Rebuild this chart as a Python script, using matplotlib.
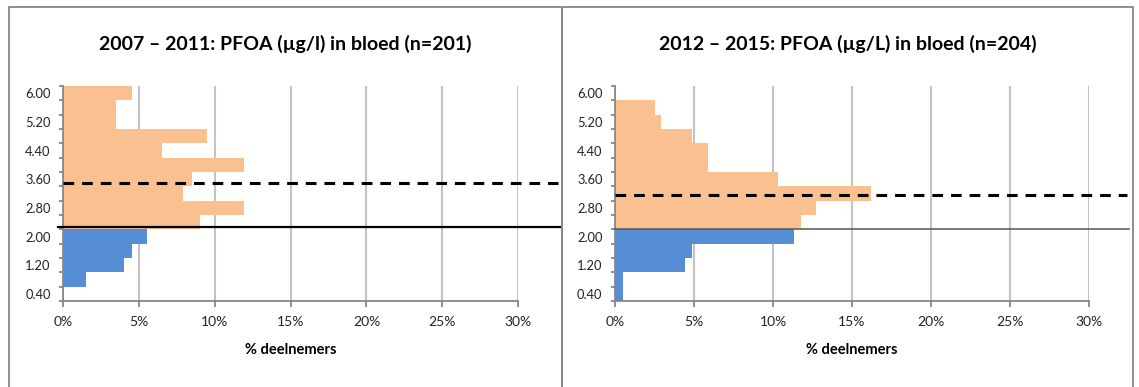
import matplotlib
matplotlib.use("Agg")
import matplotlib.pyplot as plt
import matplotlib.transforms as mtransforms
from matplotlib.patches import Rectangle

plt.rcParams['font.family'] = ['Lato', 'DejaVu Sans']

# --- DATA ---

# klassen PFOA (µg/l), midden van elke klasse van 0.40 breed
klassen = [0.40, 0.80, 1.20, 1.60, 2.00, 2.40, 2.80, 3.20,
           3.60, 4.00, 4.40, 4.80, 5.20, 5.60, 6.00]
klas_labels = ["0.40", "1.20", "2.00", "2.80", "3.60", "4.40", "5.20", "6.00"]
x_ticks = [0, 5, 10, 15, 20, 25, 30]

# % deelnemers per klasse
pct_2007 = [0, 1.5, 4.0, 4.5, 5.5, 9.0, 11.9, 7.9, 8.5, 11.9, 6.5, 9.5, 3.5, 3.5, 4.5]
pct_2012 = [0.5, 0.5, 4.4, 4.9, 11.3, 11.8, 12.7, 16.2, 10.3, 5.9, 5.9, 4.9, 2.9, 2.5, 0]

titel_2007 = "2007 – 2011: PFOA (µg/l) in bloed (n=201)"
titel_2012 = "2012 – 2015: PFOA (µg/L) in bloed (n=204)"

# grens blauw/oranje en referentielijnen
grens_klasse = 2.0
mediaan_2007 = 3.50
lijn_2007 = 2.27
mediaan_2012 = 3.16
lijn_2012 = 2.21

BLAUW = '#558ED5'
ORANJE = '#FAC090'
GRIJS = '#878787'

W, H = 1139, 387


def teken(ax, pct, mediaan, lijn, lijn_kleur, lijn_dikte, lijn_start, lijn_eind):
    kleuren = [BLAUW if k <= grens_klasse else ORANJE for k in klassen]
    ax.barh(klassen, pct, height=0.4, color=kleuren, linewidth=0, zorder=2)

    ax.set_xlim(0, 30)
    ax.set_ylim(klassen[0] - 0.2, klassen[-1] + 0.2)

    # raster alleen verticaal
    ax.set_xticks(x_ticks)
    ax.set_xticklabels([f"{v}%" for v in x_ticks])
    ax.grid(axis='x', color='#c3c3c3', linewidth=1.5, zorder=0)
    ax.grid(axis='y', visible=False)
    ax.set_axisbelow(True)

    ax.set_yticks([float(s) for s in klas_labels])
    ax.set_yticklabels(klas_labels)
    ax.set_yticks([k - 0.2 for k in klassen] + [klassen[-1] + 0.2], minor=True)

    for kant in ['top', 'right']:
        ax.spines[kant].set_visible(False)
    for kant in ['left', 'bottom']:
        ax.spines[kant].set_color(GRIJS)
        ax.spines[kant].set_linewidth(1.3)
        ax.spines[kant].set_zorder(3)

    ax.tick_params(axis='x', length=4, width=1.3, color=GRIJS, pad=7,
                   labelsize=10, labelcolor='#222222')
    ax.tick_params(axis='y', which='major', length=0, pad=9,
                   labelsize=9.3, labelcolor='#222222')
    ax.tick_params(axis='y', which='minor', length=3, width=1.3, color=GRIJS)

    ax.set_xlabel("% deelnemers", fontsize=10.5, fontweight='bold')
    ax.xaxis.set_label_coords(0.5, -0.228)
    ax.xaxis.label.set_va('center')

    # lijnen lopen door tot buiten het grafiekgebied
    trans = mtransforms.blended_transform_factory(ax.transAxes, ax.transData)
    ax.plot([0, lijn_eind], [mediaan, mediaan], transform=trans, color='black',
            linewidth=2.2, linestyle=(0, (3.5, 2.6)), clip_on=False, zorder=4)
    ax.plot([lijn_start, lijn_eind + 0.004], [lijn, lijn], transform=trans, color=lijn_kleur,
            linewidth=lijn_dikte, clip_on=False, zorder=4)


fig = plt.figure(figsize=(W / 100, H / 100), dpi=100)

ax1 = fig.add_axes([63.3 / W, 1 - 301 / H, (518 - 63.3) / W, 215 / H])
ax2 = fig.add_axes([615 / W, 1 - 301 / H, (1089 - 615) / W, 215 / H])

teken(ax1, pct_2007, mediaan_2007, lijn_2007, 'black', 1.6, -0.012, 1.088)
teken(ax2, pct_2012, mediaan_2012, lijn_2012, '#555555', 1.1, 0.0, 1.08)

# kaders rond beide grafieken
fig.add_artist(Rectangle((9 / W, -0.1), (562 - 9) / W, 1.1 - 7 / H,
                         transform=fig.transFigure, fill=False,
                         edgecolor=GRIJS, linewidth=1.3))
fig.add_artist(Rectangle((562 / W, -0.1), (1133 - 562) / W, 1.1 - 7 / H,
                         transform=fig.transFigure, fill=False,
                         edgecolor=GRIJS, linewidth=1.3))

fig.text(285.5 / W, 1 - 44 / H, titel_2007, ha='center', va='center',
         fontsize=14, fontweight='bold')
fig.text(847.5 / W, 1 - 44 / H, titel_2012, ha='center', va='center',
         fontsize=14, fontweight='bold')

fig.savefig("out.png", dpi=100)
